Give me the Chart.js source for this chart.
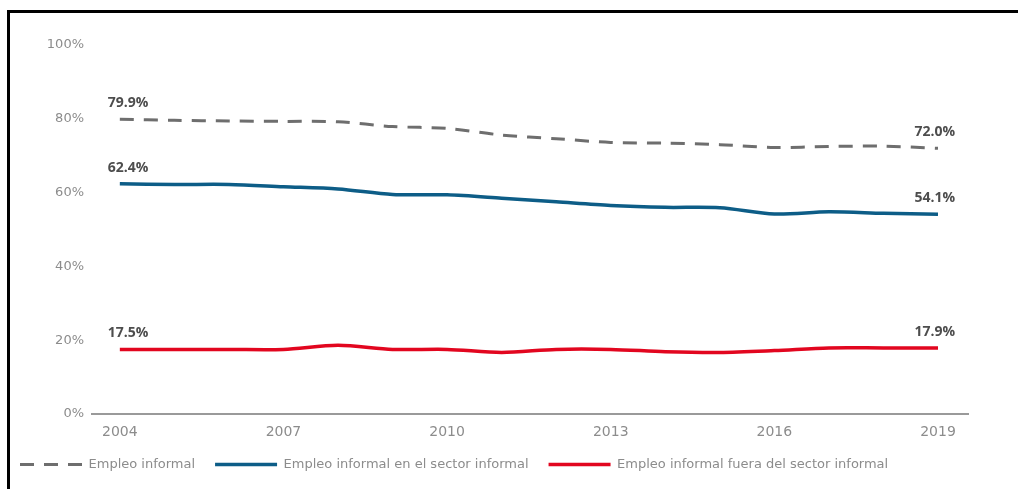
<!DOCTYPE html>
<html>
<head>
<meta charset="utf-8">
<script src="https://cdn.jsdelivr.net/npm/chart.js@4"></script>
<style>
  html, body { margin: 0; padding: 0; background: #fff; }
  #wrap { position: relative; width: 1018px; height: 489px; overflow: hidden; }
  #frame { position: absolute; left: 7px; top: 10px; width: 1100px; height: 600px; border-top: 3px solid #000; border-left: 3px solid #000; }
  #chart { position: absolute; left: 0; top: 0; }
</style>
</head>
<body>
<div id="wrap">
  <div id="frame"></div>
  <canvas id="chart" width="1018" height="489"></canvas>
</div>
<script>
const years = [2004, 2005, 2006, 2007, 2008, 2009, 2010, 2011, 2012, 2013, 2014, 2015, 2016, 2017, 2018, 2019];
const yearTicks = [2004, 2007, 2010, 2013, 2016, 2019];
const pctTicks = [0, 20, 40, 60, 80, 100];

// share of informal employment, %
const informal        = [79.9, 79.6, 79.4, 79.3, 79.2, 77.9, 77.4, 75.6, 74.6, 73.6, 73.4, 73.0, 72.2, 72.5, 72.6, 72.0];
const informalSector  = [62.4, 62.2, 62.2, 61.6, 61.0, 59.5, 59.4, 58.5, 57.5, 56.5, 56.0, 55.9, 54.2, 54.8, 54.4, 54.1];
const informalOutside = [17.5, 17.5, 17.5, 17.5, 18.6, 17.5, 17.5, 16.7, 17.5, 17.5, 16.9, 16.7, 17.2, 17.9, 17.9, 17.9];

const toPoints = vals => years.map((x, i) => ({ x, y: vals[i] }));
const pct = v => v.toFixed(1) + '%';

// first / last value written above each line
const endLabels = {
  id: 'endLabels',
  afterDatasetsDraw(chart) {
    const ctx = chart.ctx;
    ctx.save();
    ctx.font = 'bold 14px "Open Sans"';
    ctx.fillStyle = '#4d4d4d';
    ctx.textBaseline = 'bottom';
    chart.data.datasets.forEach((ds, i) => {
      const pts = chart.getDatasetMeta(i).data;
      const first = pts[0];
      const last = pts[pts.length - 1];
      ctx.textAlign = 'left';
      ctx.fillText(pct(ds.data[0].y), first.x - 12, first.y - 9);
      ctx.textAlign = 'right';
      ctx.fillText(pct(ds.data[ds.data.length - 1].y), last.x + 17, last.y - 9);
    });
    ctx.restore();
  }
};

Chart.defaults.font.family = '"DejaVu Sans", sans-serif';

new Chart(document.querySelector('#chart').getContext('2d'), {
  type: 'line',
  data: {
    datasets: [
      {
        label: 'Empleo informal',
        data: toPoints(informal),
        borderColor: '#6e6e6e',
        backgroundColor: '#6e6e6e',
        borderWidth: 3,
        borderDash: [14, 10],
        pointRadius: 0,
        tension: 0.3
      },
      {
        label: 'Empleo informal en el sector informal',
        data: toPoints(informalSector),
        borderColor: '#0d5d87',
        backgroundColor: '#0d5d87',
        borderWidth: 3.5,
        pointRadius: 0,
        tension: 0.3
      },
      {
        label: 'Empleo informal fuera del sector informal',
        data: toPoints(informalOutside),
        borderColor: '#e2061f',
        backgroundColor: '#e2061f',
        borderWidth: 3.5,
        pointRadius: 0,
        tension: 0.3
      }
    ]
  },
  options: {
    responsive: false,
    animation: false,
    layout: { padding: { left: 0, right: 50, top: 45, bottom: 8 } },
    scales: {
      x: {
        type: 'linear',
        min: 2003.49,
        max: 2019.55,
        afterBuildTicks: scale => { scale.ticks = yearTicks.map(value => ({ value })); },
        afterFit: scale => { scale.height = 24; },
        grid: { display: false, drawTicks: false },
        border: { display: true, color: '#9a9a9a', width: 2 },
        ticks: { color: '#8c8c8c', font: { size: 14 }, padding: 10, callback: v => String(v) }
      },
      y: {
        min: 0,
        max: 100,
        afterBuildTicks: scale => { scale.ticks = pctTicks.map(value => ({ value })); },
        afterFit: scale => { scale.width = 92; },
        grid: { display: false, drawTicks: false },
        border: { display: false },
        ticks: { color: '#8c8c8c', font: { size: 13 }, padding: 8, callback: v => v + '%' }
      }
    },
    plugins: {
      tooltip: { enabled: false },
      legend: {
        position: 'bottom',
        align: 'start',
        labels: {
          usePointStyle: true,
          pointStyle: 'line',
          pointStyleWidth: 62,
          padding: 20,
          color: '#8c8c8c',
          font: { size: 13 },
          // keep the dash pattern of each line in its legend sample
          generateLabels: chart => Chart.defaults.plugins.legend.labels.generateLabels(chart)
            .map(item => ({ ...item, lineDash: chart.data.datasets[item.datasetIndex].borderDash || [] }))
        }
      }
    }
  },
  plugins: [endLabels]
});
</script>
</body>
</html>
